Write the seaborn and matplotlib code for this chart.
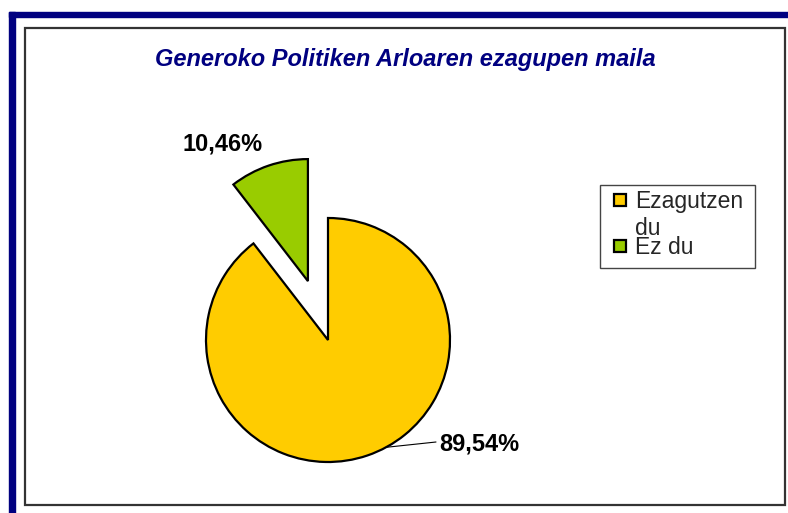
import numpy as np
import seaborn as sns
import matplotlib.pyplot as plt
from matplotlib.patches import Rectangle

# datos del gráfico
labels = ["Ezagutzen du", "Ez du"]
values = [89.54, 10.46]
colors = ["#FFCC00", "#99CC00"]
title = "Generoko Politiken Arloaren ezagupen maila"

sns.set_theme(style="white")
plt.rcParams['font.family'] = ['Liberation Sans', 'DejaVu Sans']

W, H = 788, 513
fig = plt.figure(figsize=(W / 100, H / 100), dpi=100)
ax = fig.add_axes([0, 0, 1, 1])

def Y(y):
    # coordenadas de pixel (desde arriba) -> ejes
    return H - y

# marco azul y caja blanca
ax.add_patch(Rectangle((9, Y(17)), W - 9, 5, color="#000080", zorder=1))
ax.add_patch(Rectangle((9, 0), 6, Y(12), color="#000080", zorder=1))
ax.add_patch(Rectangle((25, Y(505)), 760, 477, facecolor="white",
                       edgecolor="#333333", linewidth=1.6, zorder=1))

# tarta
cx, cy, r = 328, Y(340), 122
start = 90 + 360 * values[1] / sum(values)

def fmt(p):
    return f"{p:.2f}%".replace(".", ",")

# en pie() el desplazamiento va en unidades de datos
wedges, texts, autotexts = ax.pie(
    values, explode=[0, 0.51 * r], colors=colors, startangle=start,
    counterclock=True, center=(cx, cy), radius=r, autopct=fmt,
    wedgeprops=dict(edgecolor="black", linewidth=1.6),
    textprops=dict(fontsize=17, fontweight="bold", color="black"))
for w in wedges:
    w.set_zorder(3)

autotexts[0].set_position((479, Y(450)))
autotexts[1].set_position((223, Y(151)))
for t in autotexts:
    t.set_ha("center")
    t.set_va("baseline")
    t.set_zorder(4)

# línea guía de la etiqueta grande
th = np.deg2rad(-61.6)
ax.plot([cx + r * np.cos(th), 436], [cy + r * np.sin(th), Y(442)],
        color="black", linewidth=0.8, zorder=4)

ax.set_xlim(0, W)
ax.set_ylim(0, H)
ax.set_aspect("auto")
ax.axis("off")

# título
ax.text(405, Y(66), title, ha="center", va="baseline", fontsize=17,
        fontweight="bold", fontstyle="italic", color="#000080", zorder=5)

# leyenda (recortada como en el original)
box = Rectangle((600, Y(268)), 155, 83, facecolor="white",
                edgecolor="#444444", linewidth=1.0, zorder=5)
ax.add_patch(box)
ax.add_patch(Rectangle((614, Y(206)), 12, 12, facecolor=colors[0],
                       edgecolor="black", linewidth=1.6, zorder=6))
ax.add_patch(Rectangle((614, Y(252)), 12, 12, facecolor=colors[1],
                       edgecolor="black", linewidth=1.6, zorder=6))
first, rest = labels[0].split(" ", 1)
legend_lines = [(first, 208), (rest, 235), (labels[1], 254)]
for txt, yb in legend_lines:
    t = ax.text(635, Y(yb), txt, ha="left", va="baseline",
                fontsize=16.5, zorder=6)
    t.set_clip_path(box)

fig.savefig("out.png", dpi=100)
